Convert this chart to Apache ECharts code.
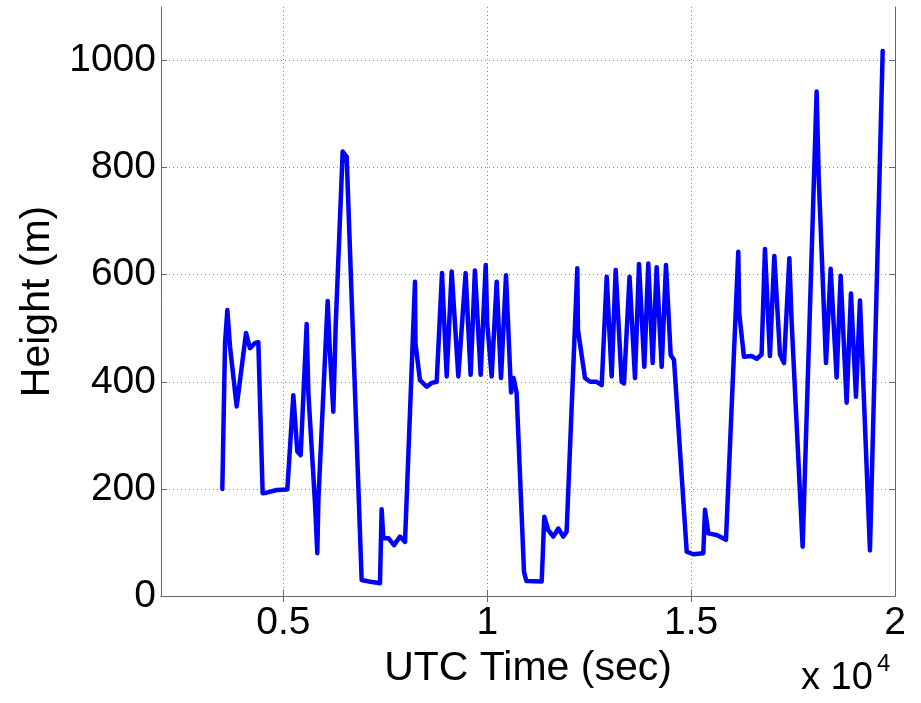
<!DOCTYPE html>
<html>
<head>
<meta charset="utf-8">
<script src="https://cdn.jsdelivr.net/npm/echarts@6/dist/echarts.min.js"></script>
<style>
  html, body { margin: 0; padding: 0; background: #ffffff; }
  #chart { width: 921px; height: 703px; }
</style>
</head>
<body>
<div id="chart"></div>
<script>
// Flight altitude trace: UTC time (s) against height (m)
const utcTime = [
  3504, 3570, 3627, 3692, 3856, 4085, 4183, 4300, 4387, 4493,
  4592, 4837, 5098, 5245, 5343, 5425, 5572, 5614, 5777, 5833,
  5860, 6087, 6144, 6226, 6283, 6455, 6553, 6921, 7100, 7370,
  7411, 7452, 7576, 7714, 7861, 7984, 8229, 8240, 8351, 8515,
  8640, 8761, 8891, 9006, 9128, 9291, 9470, 9593, 9698, 9839,
  9963, 10000, 10109, 10232, 10338, 10461, 10584, 10620, 10645, 10690,
  10720, 10902, 10960, 11336, 11399, 11497, 11621, 11743, 11865, 11947,
  12209, 12225, 12398, 12521, 12684, 12807, 12930, 13052, 13150, 13297,
  13354, 13490, 13624, 13722, 13852, 13950, 14057, 14155, 14278, 14384,
  14499, 14580, 14892, 15050, 15299, 15340, 15422, 15626, 15855, 16157,
  16180, 16296, 16482, 16608, 16728, 16811, 16933, 17040, 17180, 17278,
  17409, 17465, 17735, 18078, 18130, 18308, 18422, 18569, 18667, 18814,
  18920, 19043, 19141, 19200, 19239, 19386, 19698
];
const height = [
  200, 472, 534, 466, 354, 491, 463, 472, 474, 192,
  193, 198, 199, 375, 270, 263, 508, 379, 173, 80,
  180, 551, 453, 344, 503, 830, 820, 30, 27, 24,
  162, 108, 108, 95, 111, 101, 587, 472, 403, 391,
  398, 400, 603, 410, 606, 410, 603, 413, 608, 413,
  618, 510, 410, 587, 407, 599, 380, 378, 407, 405,
  380, 45, 28, 27, 148, 123, 111, 126, 111, 120,
  612, 497, 407, 400, 400, 394, 596, 410, 609, 400,
  397, 596, 407, 620, 428, 621, 435, 614, 428, 618,
  450, 441, 83, 78, 80, 161, 117, 114, 105, 643,
  528, 447, 448, 443, 451, 648, 448, 635, 451, 435,
  631, 512, 92, 942, 780, 435, 611, 408, 598, 361,
  565, 372, 552, 440, 442, 85, 1018
];

// Axis ticks
const xTickValues = [5000, 10000, 15000, 20000];
const xTickLabels = ['0.5', '1', '1.5', '2'];
const yTickValues = [0, 200, 400, 600, 800, 1000];

const FONT = 'Liberation Sans';
const frameColor = '#666666';
const gridLineStyle = { color: '#8c8c9c', width: 1, type: [1, 3] };

const points = utcTime.map((t, i) => [t, height[i]]);

const chart = echarts.init(document.getElementById('chart'), null, { renderer: 'canvas' });

chart.setOption({
  animation: false,
  backgroundColor: '#ffffff',
  grid: { left: 161, right: 26, top: 7, bottom: 107, containLabel: false },
  xAxis: [
    {
      type: 'value', min: 2000, max: 20000, position: 'bottom',
      name: 'UTC Time (sec)', nameLocation: 'middle', nameGap: 40,
      nameTextStyle: { fontFamily: FONT, fontSize: 41, color: '#000' },
      axisLine: { show: true, lineStyle: { color: frameColor, width: 1 } },
      axisTick: { show: true, inside: true, length: 6, customValues: xTickValues.slice(0, 3),
                  lineStyle: { color: frameColor } },
      axisLabel: {
        customValues: xTickValues, margin: 8,
        fontFamily: FONT, fontSize: 39, color: '#000',
        formatter: v => xTickLabels[xTickValues.indexOf(v)] || ''
      },
      splitLine: { show: true, lineStyle: gridLineStyle }
    },
    {
      type: 'value', min: 2000, max: 20000, position: 'top',
      axisLine: { show: true, lineStyle: { color: frameColor, width: 1 } },
      axisTick: { show: true, inside: true, length: 6, customValues: xTickValues.slice(0, 3),
                  lineStyle: { color: frameColor } },
      axisLabel: { show: false },
      splitLine: { show: false }
    }
  ],
  yAxis: [
    {
      type: 'value', min: 0, max: 1100, position: 'left',
      name: 'Height (m)', nameLocation: 'middle', nameGap: 102, nameRotate: 90,
      nameTextStyle: { fontFamily: FONT, fontSize: 41, color: '#000' },
      axisLine: { show: true, lineStyle: { color: frameColor, width: 1 } },
      axisTick: { show: true, inside: true, length: 6, customValues: yTickValues,
                  lineStyle: { color: frameColor } },
      axisLabel: {
        customValues: yTickValues, margin: 5,
        fontFamily: FONT, fontSize: 39, color: '#000',
        formatter: v => String(v)
      },
      splitLine: { show: true, lineStyle: gridLineStyle }
    },
    {
      type: 'value', min: 0, max: 1100, position: 'right',
      axisLine: { show: true, lineStyle: { color: frameColor, width: 1 } },
      axisTick: { show: true, inside: true, length: 6, customValues: yTickValues,
                  lineStyle: { color: frameColor } },
      axisLabel: { show: false },
      splitLine: { show: false }
    }
  ],
  series: [{
    type: 'line',
    xAxisIndex: 0,
    yAxisIndex: 0,
    data: points,
    showSymbol: false,
    symbol: 'none',
    lineStyle: { color: '#0000ff', width: 4.5, join: 'round', cap: 'round' },
    z: 5
  }],
  graphic: [
    {
      type: 'text', left: 801, top: 660,
      style: { text: 'x 10', fontFamily: FONT, fontSize: 38, fill: '#000' }
    },
    {
      type: 'text', left: 877, top: 652,
      style: { text: '4', fontFamily: FONT, fontSize: 24, fill: '#000' }
    }
  ]
});
</script>
</body>
</html>
